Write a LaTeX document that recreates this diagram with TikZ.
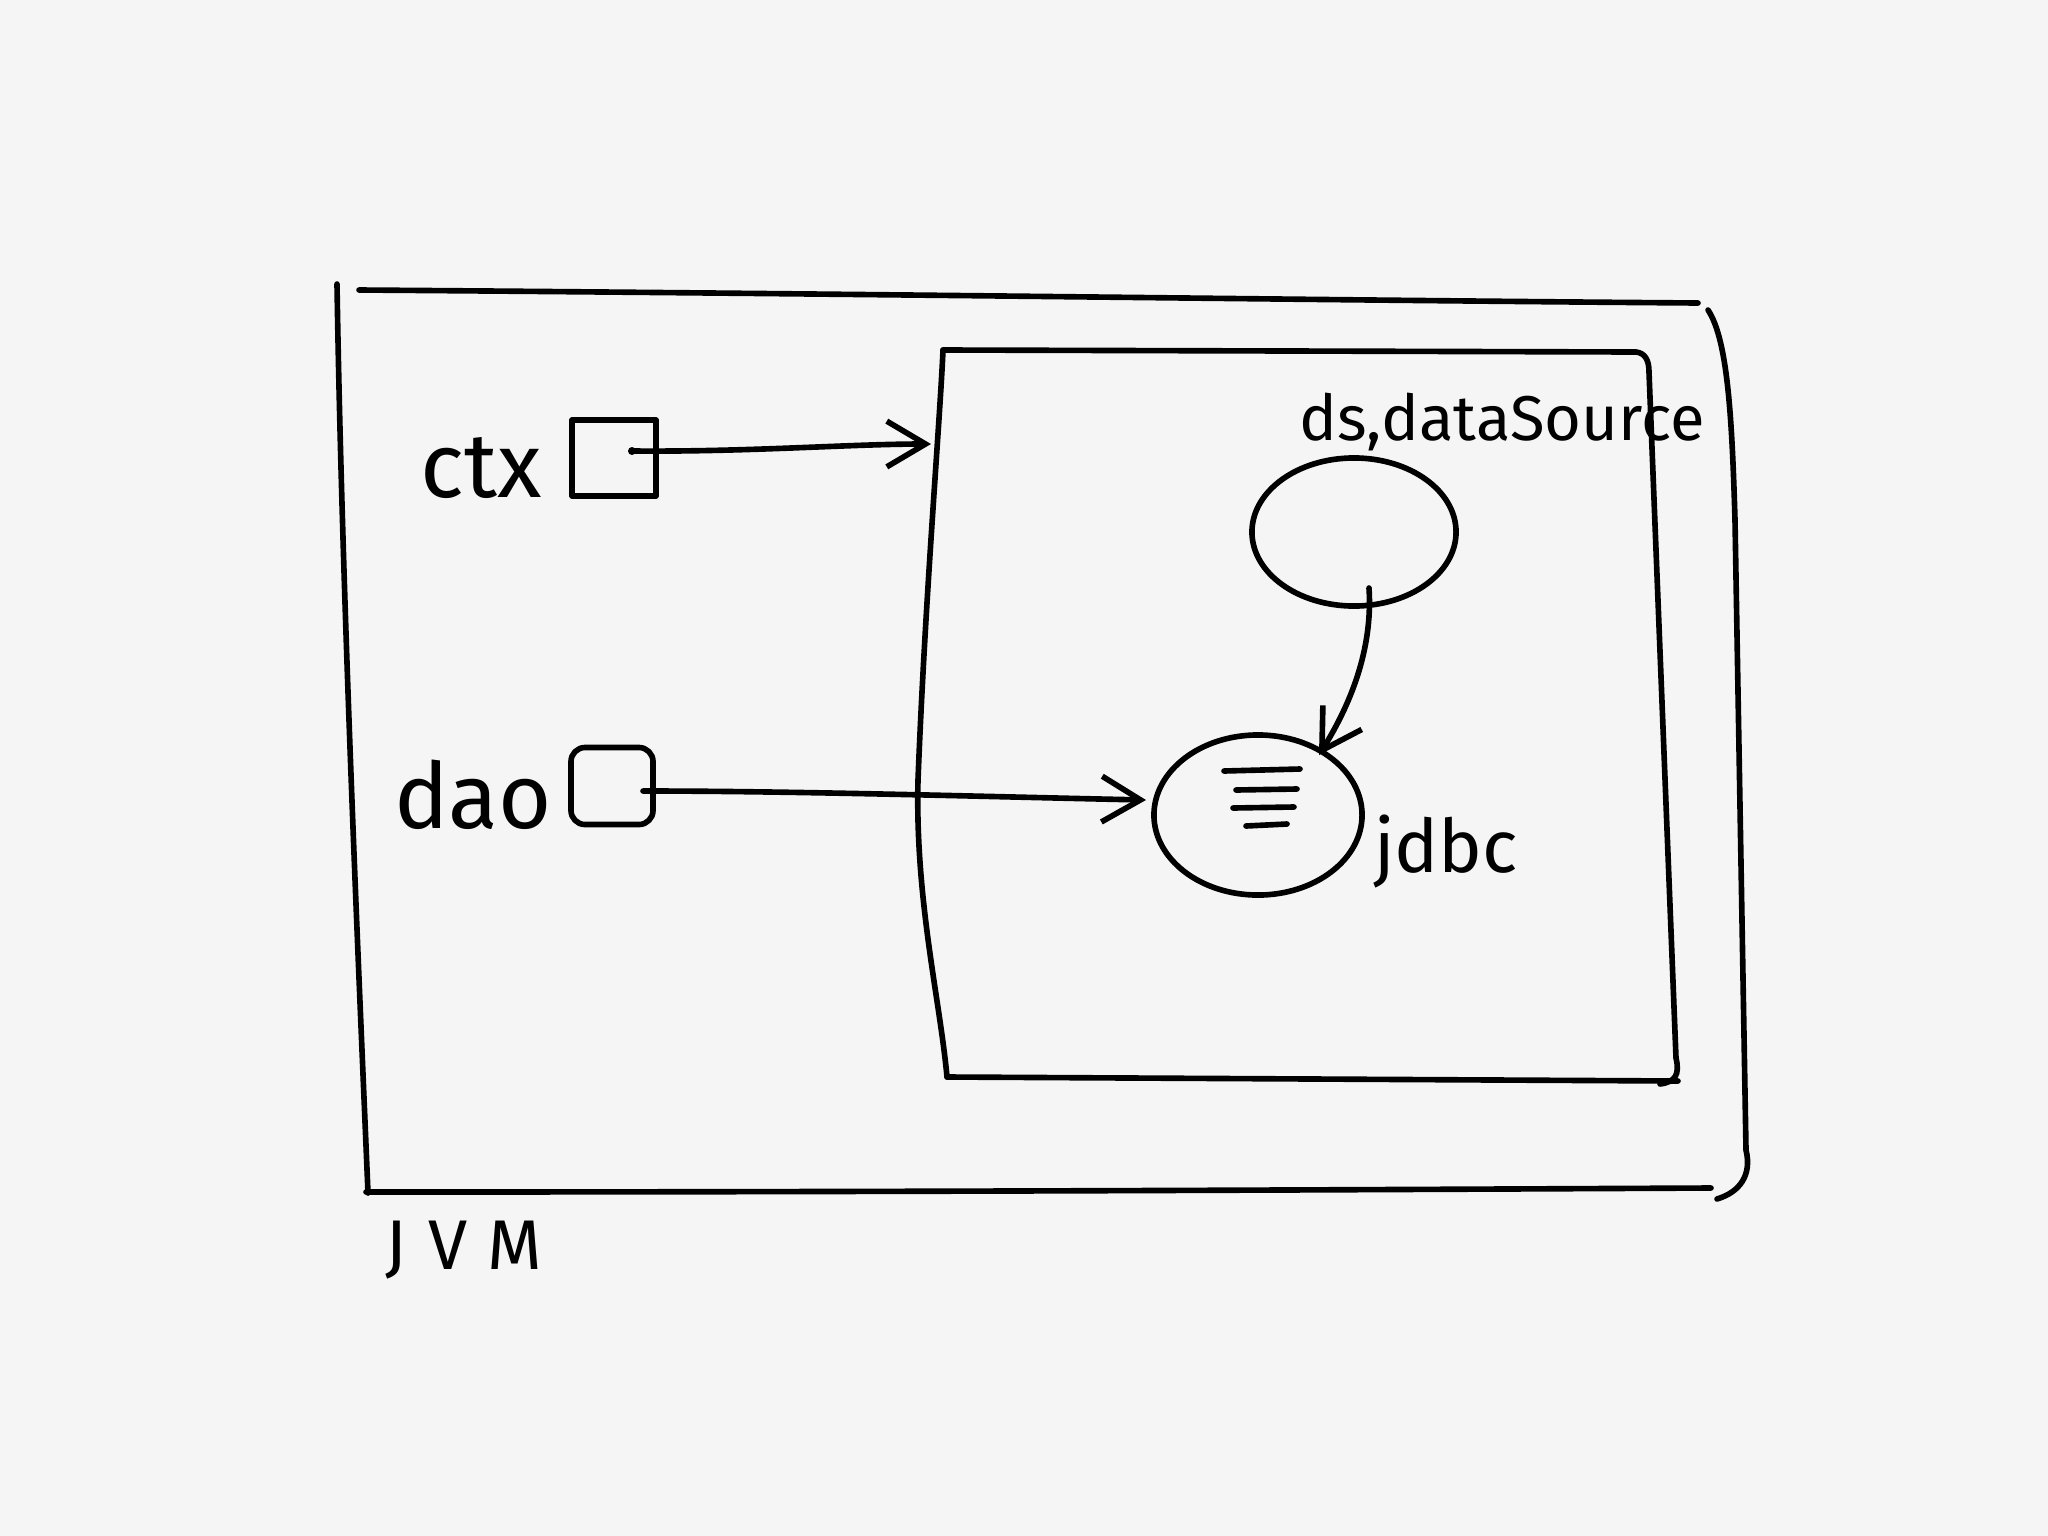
\documentclass[tikz,border=0pt]{standalone}
\usepackage{fontspec}
\setmainfont{Fira Sans}
\usetikzlibrary{shapes.geometric,arrows.meta}
\definecolor{paper}{HTML}{F5F5F5}
\begin{document}
\begin{tikzpicture}[x=0.01cm,y=-0.01cm,
  line width=1.6pt, line cap=round, line join=round,
  lbl/.style={font=\fontsize{#1}{#1}\selectfont, inner sep=0pt, text=black},
  refbox/.style={draw, rectangle, inner sep=0pt},
  obj/.style={draw, ellipse, inner sep=0pt},
  arr/.style={-{Straight Barb[length=11pt,width=13pt,line width=1.6pt]}}]
\fill[paper] (0,0) rectangle (2048,1536);
\useasboundingbox (0,0) rectangle (2048,1536);

% outer JVM box
\draw (337,284) .. controls (342,600) and (360,1000) .. (368,1193);
\draw (359,290) .. controls (900,294) and (1300,300) .. (1698,303);
\draw (1708,310) .. controls (1728,340) and (1732,420) .. (1735,520)
      -- (1746,1150) .. controls (1752,1175) and (1740,1192) .. (1717,1199);
\draw (366,1192) .. controls (900,1192) and (1300,1190) .. (1711,1188);

% inner container box
\draw (943,350) .. controls (940,420) and (925,600) .. (918,780)
      .. controls (915,900) and (940,1000) .. (947,1077);
\draw (943,350) -- (1636,352) .. controls (1645,353) and (1649,360) .. (1649,372);
\draw (1649,372) -- (1676,1058) .. controls (1680,1075) and (1675,1082) .. (1660,1084);
\draw (947,1077) -- (1678,1081);

% references
\node[lbl=26] (ctxl) at (481,468) {ctx};
\node[refbox, minimum width=0.84cm, minimum height=0.76cm] (ctxb) at (614,458) {};
\node[lbl=26] (daol) at (473,795) {dao};
\node[refbox, minimum width=0.82cm, minimum height=0.77cm, rounded corners=4pt] (daob) at (612,786) {};

% objects
\node[obj, minimum width=2.04cm, minimum height=1.48cm] (ds) at (1354,532) {};
\node[lbl=18] (dsl) at (1502,422) {ds,dataSource};
\node[obj, minimum width=2.08cm, minimum height=1.6cm] (jdbc) at (1258,815) {};
\node[lbl=21] (jdbcl) at (1446,852) {jdbc};
\draw (1224,771) -- (1300,769);
\draw (1236,790) -- (1297,789);
\draw (1233,808) -- (1294,807);
\draw (1246,826) -- (1287,824);

% JVM label
\node[lbl=20, font=\fontsize{20}{20}\selectfont\addfontfeature{LetterSpace=30}] (jvml) at (464,1250) {JVM};

% connectors
\coordinate (ctxdot) at (632,451);
\coordinate (daodot) at (643,791);
\coordinate (innerleft) at (931,444);
\coordinate (jdbcleft) at (1146,800);
\coordinate (dsout) at (1369,588);
\coordinate (jdbcin) at (1319,755);
\fill (ctxdot) circle (4);
\draw[arr] (ctxdot) .. controls (750,452) and (850,444) .. (innerleft);
\draw[arr] (daodot) .. controls (800,791) and (1000,797) .. (jdbcleft);
\draw[arr] (dsout) .. controls (1373,650) and (1350,705) .. (jdbcin);
\end{tikzpicture}
\end{document}
